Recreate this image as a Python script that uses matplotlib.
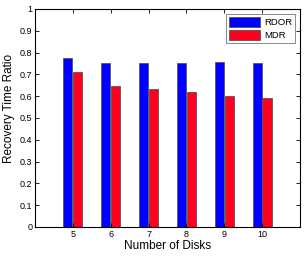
import matplotlib
matplotlib.use("Agg")
import matplotlib.pyplot as plt
import numpy as np

disks = [5, 6, 7, 8, 9, 10]
rdor = [0.777, 0.751, 0.753, 0.751, 0.756, 0.751]
mdr = [0.712, 0.646, 0.631, 0.618, 0.599, 0.592]
yticks = [0, 0.1, 0.2, 0.3, 0.4, 0.5, 0.6, 0.7, 0.8, 0.9, 1]
ytick_labels = ["0", "0.1", "0.2", "0.3", "0.4", "0.5", "0.6", "0.7", "0.8", "0.9", "1"]

plt.rcParams['font.family'] = ['Liberation Sans', 'DejaVu Sans']
fig = plt.figure(figsize=(3.07, 2.57), dpi=100)
ax = fig.add_axes([0.114, 0.117, 0.863, 0.848])

x = np.array(disks, dtype=float)
w = 0.24
ax.bar(x - 0.13, rdor, w, color='#0000ff', edgecolor='#555555', linewidth=0.6, label='RDOR')
ax.bar(x + 0.13, mdr, w, color='#ff0020', edgecolor='#555555', linewidth=0.6, label='MDR')

ax.set_xlim(4, 11)
ax.set_ylim(0, 1)
ax.set_xticks(disks)
ax.set_xticklabels([str(d) for d in disks])
ax.set_yticks(yticks)
ax.set_yticklabels(ytick_labels)
ax.tick_params(direction='in', top=True, right=True, labelsize=6.5, length=3, width=0.6, pad=2)
for s in ax.spines.values():
    s.set_linewidth(0.8)
ax.set_xlabel('Number of Disks', fontsize=8.5, labelpad=1)
ax.set_ylabel('Recovery Time Ratio', fontsize=8.5)
ax.yaxis.set_label_coords(-0.076, 0.544)
leg = ax.legend(loc='upper right', fontsize=6.8, fancybox=False, edgecolor='#555555',
                handlelength=3.3, handleheight=1.3, borderpad=0.3, labelspacing=0.3,
                handletextpad=0.4, borderaxespad=0.5)
leg.get_frame().set_linewidth(0.6)
fig.savefig('out.png', dpi=100)
